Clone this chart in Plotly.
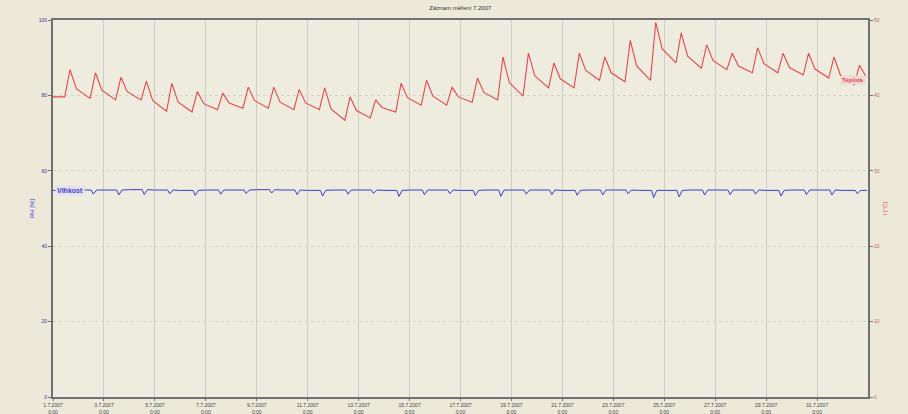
import pandas as pd
import plotly.graph_objects as go

# ---------------- data ----------------
title_text = "Záznam měření 7.2007"
start_day = "2007-07-01"
n_days = 32

# red series (right axis), per day: minimum (~11:00), peak (~16:00), evening (~22:00)
red_start = 39.8
red_min = [39.8, 39.6, 39.4, 39.4, 37.9, 37.8, 38.1, 38.3, 38.3, 38.1, 38.1, 36.7,
           37.0, 37.8, 38.7, 38.7, 39.1, 39.4, 39.9, 41.0, 41.0, 42.0, 41.8, 42.0,
           44.3, 43.6, 43.4, 43.0, 43.0, 42.7, 42.3, 41.4]
red_peak = [43.4, 43.0, 42.4, 41.9, 41.6, 40.5, 40.3, 41.1, 41.1, 40.8, 41.0, 39.8,
            39.4, 41.6, 42.0, 41.1, 42.3, 45.1, 45.6, 44.3, 45.6, 45.1, 47.3, 49.7,
            48.3, 46.7, 45.6, 46.3, 45.6, 45.6, 45.1, 44.0]
red_eve = [40.9, 40.7, 40.5, 39.3, 39.1, 38.9, 39.0, 39.3, 39.1, 39.0, 38.2, 38.0,
           38.4, 39.7, 39.9, 39.8, 40.4, 41.7, 42.6, 42.2, 43.3, 43.0, 43.9, 46.2,
           45.2, 44.6, 43.9, 44.2, 43.7, 43.5, 42.7, 42.5]

# blue series (left axis), per day: level at 0:00 and short dip (~14:00)
blue_base = [54.8, 54.9, 54.9, 55.0, 54.9, 54.8, 54.9, 54.9, 55.0, 54.9, 54.8, 54.9,
             54.9, 54.8, 54.9, 54.9, 54.8, 54.9, 54.9, 54.9, 54.8, 54.9, 54.9, 54.8,
             54.8, 54.9, 54.9, 54.9, 54.8, 54.9, 54.9, 54.8]
blue_dip = [54.2, 53.8, 53.6, 53.7, 53.9, 53.5, 53.8, 54.0, 54.1, 53.7, 53.3, 53.8,
            54.0, 53.2, 53.7, 53.9, 53.4, 53.2, 53.8, 53.7, 53.5, 53.6, 53.9, 52.9,
            53.1, 53.6, 53.7, 53.8, 53.3, 53.7, 53.6, 53.9]

blue_name = "Vlhkost"
red_name = "Teplota"
left_title = "RH [%]"
right_title = "t [°C]"

tick_dates = ["1.7.2007", "3.7.2007", "5.7.2007", "7.7.2007", "9.7.2007", "11.7.2007",
              "13.7.2007", "15.7.2007", "17.7.2007", "19.7.2007", "21.7.2007",
              "23.7.2007", "25.7.2007", "27.7.2007", "29.7.2007", "31.7.2007"]
tick_times = ["0:00"] * len(tick_dates)

# ---------------- build series ----------------
days = pd.date_range(start_day, periods=n_days, freq="D")
H = pd.Timedelta(hours=1)

red_x = [days[0]]
red_y = [red_start]
for i, d in enumerate(days):
    red_x += [d + 11 * H, d + 16 * H, d + 22 * H]
    red_y += [red_min[i], red_peak[i], red_eve[i]]

blue_x, blue_y = [], []
for i, d in enumerate(days):
    blue_x += [d, d + 12 * H, d + 14 * H, d + 17 * H]
    blue_y += [blue_base[i], blue_base[i], blue_dip[i], blue_base[i]]
blue_x.append(days[-1] + 23 * H)
blue_y.append(blue_base[-1])

tick_vals = [pd.Timestamp(start_day) + pd.Timedelta(days=2 * k) for k in range(len(tick_dates))]
tick_text = [f"{a}<br>{b}" for a, b in zip(tick_dates, tick_times)]

BG = "#ECE9DA"
RED = "#E5484A"
BLUE = "#3C3CCF"

fig = go.Figure()
fig.add_trace(go.Scatter(x=blue_x, y=blue_y, mode="lines", name=blue_name,
                         line=dict(color=BLUE, width=1), yaxis="y"))
fig.add_trace(go.Scatter(x=red_x, y=red_y, mode="lines", name=red_name,
                         line=dict(color=RED, width=1.1), yaxis="y2"))

fig.update_layout(
    width=908, height=414,
    margin=dict(l=53, r=40, t=20, b=17, autoexpand=False),
    paper_bgcolor=BG, plot_bgcolor="#EEEBDF",
    showlegend=False,
    font=dict(family="Liberation Sans, Arial, sans-serif", size=6, color="#333"),
    title=dict(text=title_text, x=0.507, xanchor="center", y=0.981, yanchor="middle",
               font=dict(size=6, color="#333"), automargin=False),
    xaxis=dict(
        range=[pd.Timestamp(start_day), pd.Timestamp(start_day) + pd.Timedelta(days=32)],
        tickvals=tick_vals, ticktext=tick_text, tickangle=0, automargin=False,
        showgrid=True, gridcolor="#CFCDC2", gridwidth=1,
        showline=True, linecolor="#707070", linewidth=2, mirror=True,
        ticks="outside", ticklen=2, tickcolor="#707070",
        tickfont=dict(size=5, color="#444"), zeroline=False,
    ),
    yaxis=dict(
        range=[0, 100], dtick=20, showgrid=True, gridcolor="#D6D4C8", griddash="dot",
        showline=True, linecolor="#707070", linewidth=2, automargin=False,
        ticks="outside", ticklen=3, tickcolor="#707070",
        tickfont=dict(size=5, color="#34349a"), zeroline=False,
        title=dict(text=left_title, font=dict(size=6, color=BLUE), standoff=4),
    ),
    yaxis2=dict(
        range=[0, 50], dtick=10, overlaying="y", side="right", showgrid=False,
        showline=True, linecolor="#707070", linewidth=2, automargin=False,
        ticks="outside", ticklen=3, tickcolor="#707070",
        tickfont=dict(size=5, color="#c86060"), zeroline=False,
        title=dict(text=right_title, font=dict(size=6, color=RED), standoff=4),
    ),
)

fig.add_annotation(x=days[0], y=blue_base[0], xref="x", yref="y", text=f"<b>{blue_name}</b>",
                   showarrow=False, xanchor="left", yanchor="middle", xshift=2,
                   font=dict(size=7, color=BLUE), bgcolor="#E2E2EE")
fig.add_annotation(x=pd.Timestamp(start_day) + pd.Timedelta(days=32), y=42.0, xref="x", yref="y2",
                   text=f"<b>{red_name}</b>", showarrow=False, xanchor="right", yanchor="middle",
                   xshift=-2, font=dict(size=6, color=RED), bgcolor="#F2D8D4")

fig.write_html(
    "out.html",
    config={"displayModeBar": False},
    post_script="document.body.style.margin='0';document.body.style.background='#ECE9DA';",
)
